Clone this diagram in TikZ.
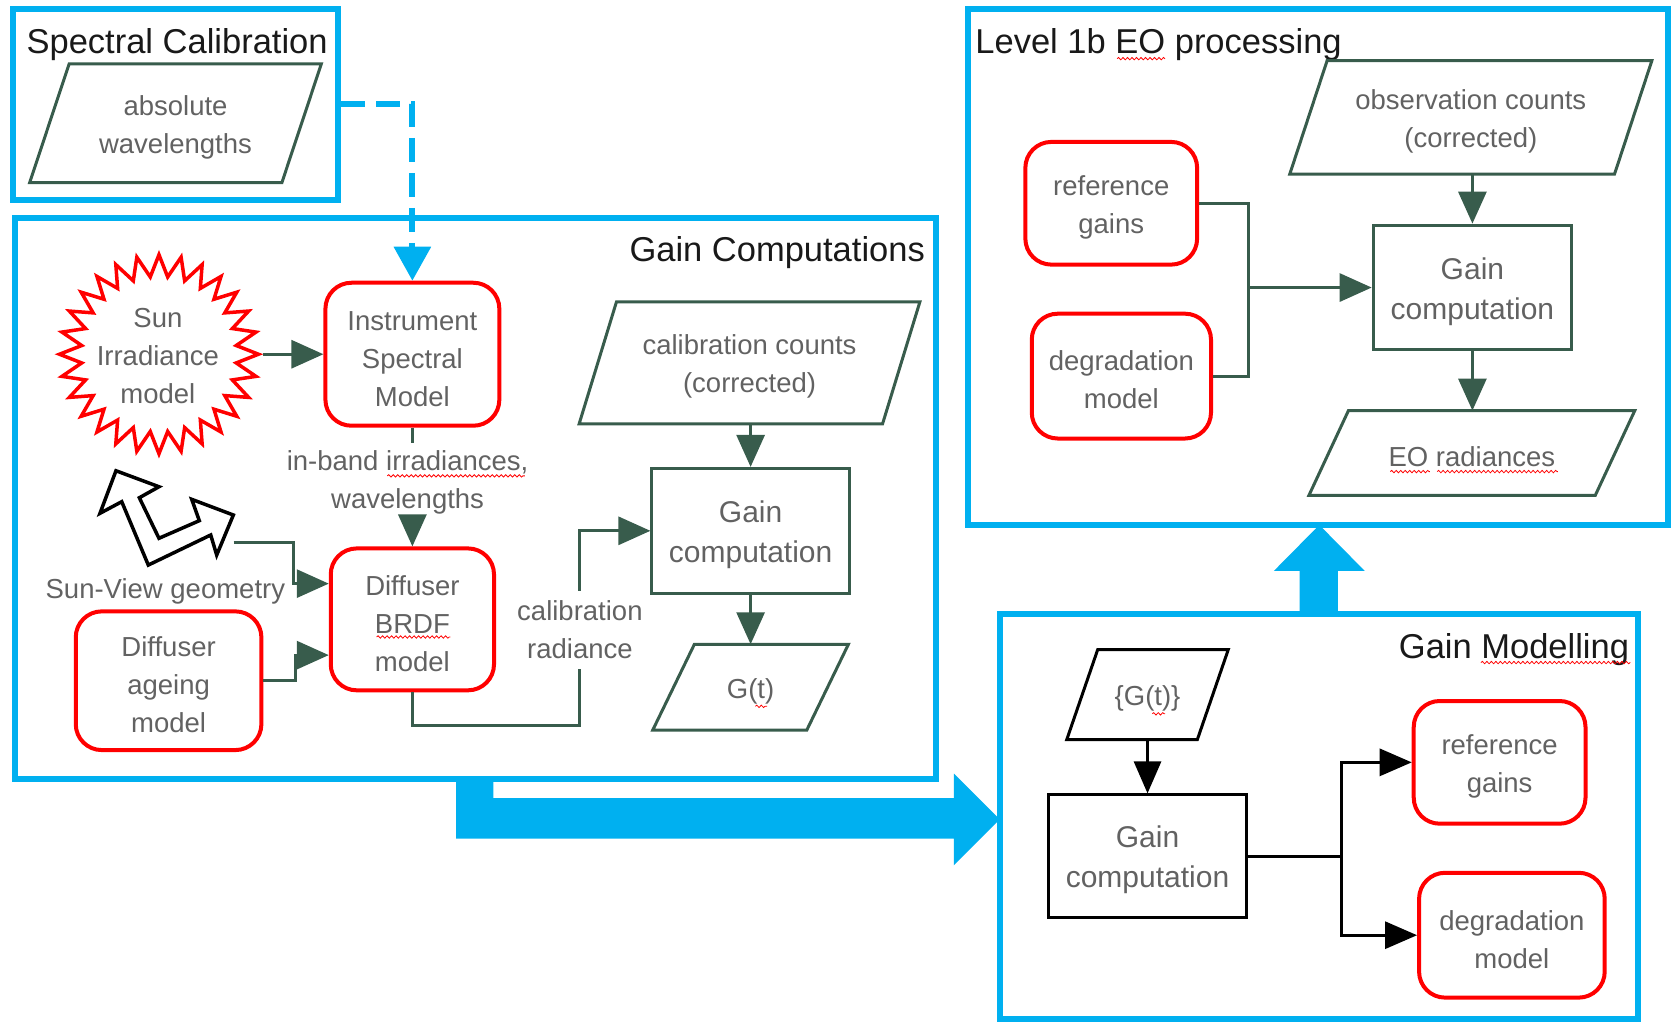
\documentclass[tikz,border=0pt]{standalone}
\usepackage{fontspec}
\setmainfont{Liberation Sans}
\usetikzlibrary{arrows.meta,shapes.geometric,calc,decorations.pathmorphing}
\definecolor{cblue}{RGB}{0,176,240}
\definecolor{dkgreen}{RGB}{56,92,76}
\definecolor{txtgrey}{RGB}{98,98,98}
\definecolor{titlegrey}{RGB}{25,25,25}
\definecolor{cred}{RGB}{255,0,0}
\newcommand\drawpara[3][paraline]{\draw[#1] ($(#2.north west)+(#3,0)$) -- (#2.north east) -- ($(#2.south east)+(-#3,0)$) -- (#2.south west) -- cycle;}
\newcommand\dn{\rule{0pt}{28pt}}
\newcommand\dng{\rule{0pt}{29.5pt}}
\begin{document}
\begin{tikzpicture}[x=1.06697pt,y=-1.06697pt,
  sz/.style 2 args={minimum width=#1*1.06697pt, minimum height=#2*1.06697pt},
  frame/.style={draw=cblue, line width=6pt, inner sep=0pt},
  title/.style={font=\fontsize{34.5}{40}\selectfont, text=titlegrey, inner sep=0pt},
  txt/.style={font=\fontsize{27.5}{38}\selectfont, text=txtgrey, align=center, inner sep=0pt},
  gtxt/.style={font=\fontsize{30}{40}\selectfont, text=txtgrey, align=center, inner sep=0pt},
  redbox/.style={txt, draw=cred, line width=4pt, rounded corners=26pt},
  gbox/.style={gtxt, draw=dkgreen, line width=3pt},
  kbox/.style={gtxt, draw=black, line width=3pt},
  paraline/.style={draw=dkgreen, line width=3pt},
  gline/.style={draw=dkgreen, line width=3pt},
  garrow/.style={gline, -{Triangle[length=32pt,width=28pt]}},
  kline/.style={draw=black, line width=3pt},
  karrow/.style={kline, -{Triangle[length=32pt,width=27pt]}},
  sunstar/.style={star, star points=28, star point ratio=1.28, minimum size=199pt, draw=cred, line width=3.5pt, inner sep=0pt},
  iconline/.style={draw=black, line width=3.5pt, fill=white, line join=miter},
  bigarrow/.style={fill=cblue, draw=none},
  squig/.style={draw=cred, line width=0.8pt, decorate, decoration={snake, amplitude=1.2pt, segment length=4.5pt}},
]
\useasboundingbox (0,0) rectangle (1568,959);

% ---------- frames ----------
\node[frame, sz={305}{179}] (scf) at (164.5,97.5) {};
\node[frame, sz={863}{526}] (gcf) at (445.5,467) {};
\node[frame, sz={656}{484}] (lbf) at (1235,250) {};
\node[frame, sz={598}{380}] (gmf) at (1236,765) {};

% ---------- big blue arrows ----------
\fill[bigarrow] (427.5,730) -- (462.5,730) -- (462.5,748) -- (894,748) -- (894,725) -- (937,768) -- (894,811) -- (894,786) -- (427.5,786) -- cycle;
\fill[bigarrow] (1218,576) -- (1218,535) -- (1194,535) -- (1236.5,492) -- (1279,535) -- (1254,535) -- (1254,576) -- cycle;

% ---------- titles ----------
\node[title] (sct) at (166,42) {Spectral Calibration};
\node[title, anchor=east] (gct) at (867,237) {Gain Computations};
\node[title, anchor=west] (lbt) at (914,42) {Level 1b EO processing};
\node[title, anchor=east] (gmt) at (1527,609) {Gain Modelling};

% ---------- Spectral calibration ----------
\node[txt, sz={273}{111}] (absw) at (164.5,115.5) {\dn absolute\\wavelengths};
\drawpara{absw}{37}

% ---------- Gain computations ----------
\node[sunstar] (sun) at (149,332) {};
\node[txt] (sunt) at (148,334) {Sun\\Irradiance\\model};
\node[redbox, sz={163}{134}] (inst) at (386.5,332) {\dn Instrument\\Spectral\\Model};
\node[redbox, sz={153}{133}] (brdf) at (386.5,580.5) {\dn Diffuser\\BRDF\\model};
\node[redbox, sz={174}{130}] (age) at (158,638) {\dn Diffuser\\ageing\\model};
\node[txt, inner sep=7pt] (ib) at (382,452) {in-band irradiances,\\wavelengths};
\node[txt, inner sep=10pt] (calrad) at (543.5,590.5) {calibration\\radiance};
\node[txt] (sv) at (155,554) {Sun-View geometry};
\node[txt, sz={319}{114}] (cc) at (702.5,340) {\dn calibration counts\\(corrected)};
\drawpara{cc}{35}
\node[gbox, sz={185}{117}] (ggc) at (703.5,497.5) {\dng Gain\\computation};
\node[txt, sz={183}{80}] (gt) at (703.5,644) {\dn G(t)};
\drawpara{gt}{39}

% Sun-View geometry icon
\draw[iconline] (108.7,441.2) -- (149.0,456.2) -- (130.6,466.5) -- (149.0,504.5) -- (186.8,488.0) -- (179.7,468.0) -- (218.7,482.7) -- (203.1,520.2) -- (197.5,501.4) -- (139.0,529.6) -- (114.1,470.2) -- (93.7,481.1) -- cycle;
\coordinate (svc) at (219,508);
\coordinate (cr1) at (543.5,680);

% connectors
\draw[cblue, line width=6pt, dash pattern=on 24pt off 11pt, -{Triangle[length=34pt,width=36pt]}] (scf.east) -| (inst.north);
\draw[garrow] (sun.east) -- (inst.west);
\draw[gline] (inst.south) -- (inst.south |- ib.north);
\draw[garrow] (brdf.north |- ib.south) -- (brdf.north);
\draw[garrow] (svc) -- ++(56,0) |- ($(brdf.west)+(0,-33.5)$);
\draw[garrow] (age.east) -- ++(30,0) |- ($(brdf.west)+(0,33.5)$);
\draw[gline] (brdf.south) |- (cr1) -- (calrad.south);
\draw[garrow] (calrad.north) |- (ggc.west);
\draw[garrow] (ggc.north |- cc.south) -- (ggc.north);
\draw[garrow] (ggc.south) -- (gt.north);

% ---------- Level 1b EO processing ----------
\node[txt, sz={339}{106}] (obs) at (1378.5,110) {\dn observation counts\\(corrected)};
\drawpara{obs}{35}
\node[gbox, sz={186}{117}] (gl) at (1380,269.5) {\dng Gain\\computation};
\node[txt, sz={305}{79}] (eo) at (1379.5,424.5) {\dn EO radiances};
\drawpara{eo}{37}
\node[redbox, sz={161}{115}] (refl) at (1041.5,190.5) {\dn reference\\gains};
\node[redbox, sz={168}{117}] (degl) at (1051,352.5) {\dn degradation\\model};
\coordinate (jl) at (1170,269.5);
\draw[gline] (refl.east) -| (jl);
\draw[gline] (degl.east) -| (jl);
\draw[garrow] (jl) -- (gl.west);
\draw[garrow] (gl.north |- obs.south) -- (gl.north);
\draw[garrow] (gl.south) -- (gl.south |- eo.north);

% ---------- Gain Modelling ----------
\node[txt, sz={151}{84}] (gg) at (1075.5,651) {\dn\{G(t)\}};
\drawpara[kline]{gg}{29}
\node[kbox, sz={185}{115}] (gm) at (1075.5,802.5) {\dng Gain\\computation};
\node[redbox, sz={161}{115}] (refm) at (1405.5,714.5) {\dn reference\\gains};
\node[redbox, sz={174}{117}] (degm) at (1417,876.5) {\dn degradation\\model};
\coordinate (jm) at (1257,802.5);
\draw[karrow] (gg.south) -- (gm.north);
\draw[kline] (gm.east) -- (jm);
\draw[karrow] (jm) |- (refm.west);
\draw[karrow] (jm) |- (degm.west);

% ---------- spell-check squiggles ----------
\draw[squig] (363,446) -- (492,446);
\draw[squig] (353,597) -- (422,597);
\draw[squig] (708,662) -- (719,662);
\draw[squig] (1047,55) -- (1092,55);
\draw[squig] (1303,442) -- (1340,442);
\draw[squig] (1347,442) -- (1460,442);
\draw[squig] (1388,621) -- (1528,621);
\draw[squig] (1080,669) -- (1092,669);
\end{tikzpicture}
\end{document}
